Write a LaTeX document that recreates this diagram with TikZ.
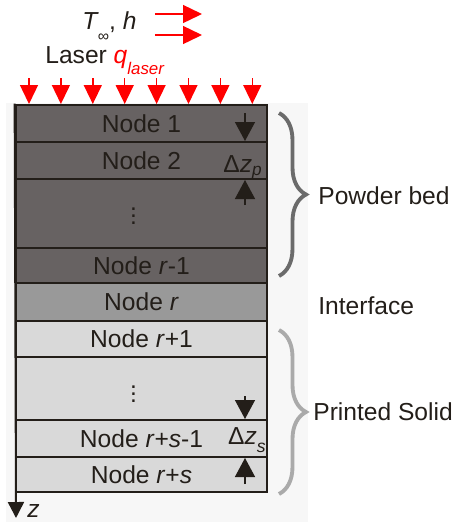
\documentclass[tikz,border=0pt]{standalone}
\usepackage{fontspec}
\setmainfont{Liberation Sans}
\usetikzlibrary{positioning,arrows.meta,calc,decorations.pathreplacing}

\definecolor{inkdark}{HTML}{231E19}
\definecolor{powder}{HTML}{676262}
\definecolor{iface}{HTML}{999999}
\definecolor{solid}{HTML}{D9D9D9}
\definecolor{panel}{HTML}{F7F7F7}
\definecolor{laserred}{HTML}{FF0000}
\definecolor{bracedark}{HTML}{6B6B6B}
\definecolor{bracelight}{HTML}{AAAAAA}

\tikzset{
  layer/.style={draw=inkdark, line width=1.6pt, minimum width=5.02cm, inner sep=0pt,
    text=inkdark, font=\fontsize{14}{16}\selectfont},
  lbl/.style={inner sep=0pt, text=inkdark, font=\fontsize{14}{16}\selectfont},
  dimarrow/.style={draw=inkdark, line width=0.8pt, -{Triangle[width=0.4cm,length=0.38cm]}},
  laserarrow/.style={draw=laserred, line width=0.8pt, -{Triangle[width=0.36cm,length=0.38cm]}},
  bedbrace/.style={decorate, decoration={brace,amplitude=0.54cm}, line width=2.2pt},
}

\begin{document}
\begin{tikzpicture}[x=0.02cm,y=-0.02cm]
  \useasboundingbox (0,0) rectangle (458,522);
  \fill[panel] (6,103) rectangle (308,522);

  % ---- layers ----
  \node[layer, fill=powder, minimum height=0.74cm] (n1) at (141.5,123.5) {Node 1};
  \node[layer, fill=powder, minimum height=0.74cm] (n2) at (141.5,160.5) {Node 2};
  \node[layer, fill=powder, minimum height=1.38cm] (pdots) at (141.5,213.5) {\raisebox{3pt}{$\vdots$}\kern0.32cm};
  \node[layer, fill=powder, minimum height=0.70cm] (nrm1) at (141.5,265.5) {Node \textit{r}-1};
  \node[layer, fill=iface, minimum height=0.76cm] (nr) at (141.5,302) {Node \textit{r}};
  \node[layer, fill=solid, minimum height=0.72cm] (nrp1) at (141.5,339) {Node \textit{r}+1};
  \node[layer, fill=solid, minimum height=1.26cm] (sdots) at (141.5,388.5) {$\vdots$\kern0.32cm};
  \node[layer, fill=solid, minimum height=0.74cm] (nrsm1) at (141.5,438.5) {Node \textit{r}+\textit{s}-1};
  \node[layer, fill=solid, minimum height=0.70cm] (nrs) at (141.5,474.5) {Node \textit{r}+\textit{s}};

  % ---- layer thickness marks ----
  \draw[dimarrow] (245,113) -- (245,141);
  \draw[dimarrow] (245,205) -- (245,180);
  \node[lbl, anchor=base east] (dzp) at (263,172) {Δ\textit{z}\textsubscript{\textit{p}}};
  \draw[dimarrow] (245,396) -- (245,419);
  \draw[dimarrow] (245,484) -- (245,458);
  \node[lbl, anchor=base east] (dzs) at (266,444) {Δ\textit{z}\raisebox{-5pt}{\fontsize{10}{12}\selectfont\textit{s}}};

  % ---- z axis ----
  \coordinate (zend) at (16,518);
  \draw[draw=inkdark, line width=1.1pt, -{Triangle[width=0.32cm,length=0.32cm]}] (n1.north west) -- (zend);
  \node[lbl, anchor=base west] (zlab) at (27,517) {\textit{z}};

  % ---- laser and convection ----
  \foreach \i in {0,...,7}
    \draw[laserarrow] (29+\i*31.9,78) -- (29+\i*31.9,104);
  \node[lbl, anchor=base west] (tinf) at (82,29) {\textit{T}\kern-0.5pt\raisebox{-7pt}{\fontsize{9}{10}\selectfont ∞}, \textit{h}};
  \node[lbl, anchor=base west] (laser) at (45,63) {Laser \textcolor{laserred}{\textit{q}\raisebox{-6.5pt}{\fontsize{9.6}{11}\selectfont\textit{laser}}}};
  \coordinate (c1a) at (155,14); \coordinate (c1b) at (202,14);
  \coordinate (c2a) at (155,35); \coordinate (c2b) at (202,35);
  \draw[laserarrow] (c1a) -- (c1b);
  \draw[laserarrow] (c2a) -- (c2b);

  % ---- braces ----
  \draw[bedbrace, draw=bracedark] (279,113) -- (279,276);
  \draw[bedbrace, draw=bracelight] (279,330) -- (279,494);
  \node[lbl, anchor=west] (pbed) at (318,196) {Powder bed};
  \node[lbl, anchor=west] (intf) at (318,306) {Interface};
  \node[lbl, anchor=west] (psol) at (313,412) {Printed Solid};
\end{tikzpicture}
\end{document}
